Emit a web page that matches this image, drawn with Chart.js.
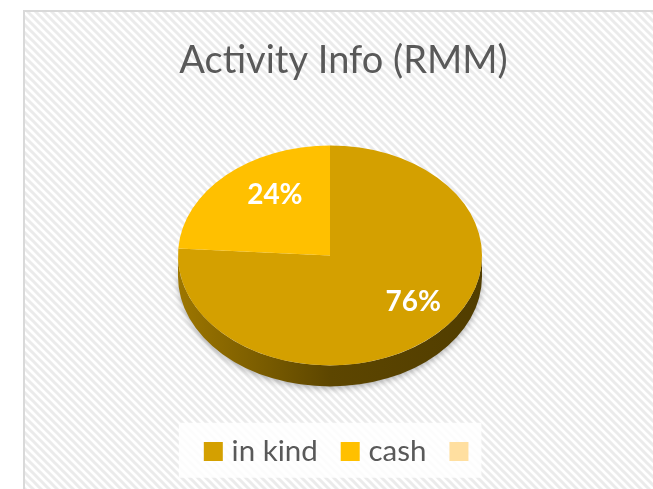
<!DOCTYPE html>
<html>
<head>
<meta charset="utf-8">
<title>Activity Info (RMM)</title>
<script src="https://cdn.jsdelivr.net/npm/chart.js@4.4.1/dist/chart.umd.min.js"></script>
<style>
  html, body { margin: 0; padding: 0; background: #fff; }
  canvas { display: block; }
</style>
</head>
<body>
<canvas id="chart" width="653" height="489"></canvas>
<script>
// Chart data
const chartTitle  = 'Activity Info (RMM)';
const categories  = ['in kind', 'cash', ''];
const values      = [76, 24, 0];
const sliceColors = ['#D4A000', '#FFC000', '#FFDFA0'];

// mix a hex colour with black
function shade(hex, f) {
    const n = parseInt(hex.slice(1), 16);
    const r = Math.round(((n >> 16) & 255) * f);
    const g = Math.round(((n >> 8) & 255) * f);
    const b = Math.round((n & 255) * f);
    return 'rgb(' + r + ',' + g + ',' + b + ')';
}

// light diagonal stripes used as the chart area fill
const stripeTile = (() => {
    const c = document.createElement('canvas');
    c.width = 8; c.height = 8;
    const g = c.getContext('2d');
    g.fillStyle = '#fff';
    g.fillRect(0, 0, 8, 8);
    g.strokeStyle = '#ebebeb';
    g.lineWidth = 3;
    g.beginPath();
    g.moveTo(-2, -2); g.lineTo(10, 10);
    g.moveTo(-2, 6);  g.lineTo(2, 10);
    g.moveTo(6, -2);  g.lineTo(10, 2);
    g.stroke();
    return c;
})();

// frame + stripes + white panel behind legend
const chartBackground = {
    id: 'chartBackground',
    beforeDraw(chart) {
        const ctx = chart.ctx;
        const {width, height} = chart;
        ctx.save();
        ctx.fillStyle = '#fff';
        ctx.fillRect(0, 0, width, height);
        ctx.fillStyle = ctx.createPattern(stripeTile, 'repeat');
        ctx.fillRect(24, 11, width - 24, height - 11);
        ctx.strokeStyle = '#d9d9d9';
        ctx.lineWidth = 2;
        ctx.strokeRect(24, 11, width, height);

        const hb = chart.legend && chart.legend.legendHitBoxes;
        if (hb && hb.length) {
            const first = hb[0], last = hb[hb.length - 1];
            const x0 = first.left - 31, x1 = last.left + 26;
            ctx.fillStyle = 'rgba(255,255,255,0.85)';
            ctx.fillRect(x0, first.top - 14, x1 - x0, 55);
        }
        ctx.restore();
    }
};

// squash the pie into an ellipse and give it a side wall
const pieTilt = {
    id: 'pieTilt',
    beforeDatasetsDraw(chart, args, opts) {
        const ctx = chart.ctx;
        const arcs = chart.getDatasetMeta(0).data;
        if (!arcs.length) return;
        const cx = arcs[0].x, cy = arcs[0].y, r = arcs[0].outerRadius;
        const X = cx + opts.offsetX, ry = r * opts.tilt;

        ctx.save();
        ctx.shadowColor = 'rgba(0,0,0,0.3)';
        ctx.shadowBlur = 6;
        ctx.shadowOffsetY = 2;
        arcs.forEach((arc, i) => {
            const base = arc.options.backgroundColor;
            for (let turn = -1; turn <= 1; turn++) {
                const a0 = Math.max(arc.startAngle, turn * 2 * Math.PI);
                const a1 = Math.min(arc.endAngle, turn * 2 * Math.PI + Math.PI);
                if (a1 <= a0) continue;
                const grad = ctx.createLinearGradient(X - r, 0, X + r, 0);
                grad.addColorStop(0, shade(base, 0.74));
                grad.addColorStop(0.3, shade(base, 0.56));
                grad.addColorStop(0.5, shade(base, 0.44));
                grad.addColorStop(1, shade(base, 0.38));
                ctx.fillStyle = grad;
                ctx.beginPath();
                ctx.ellipse(X, cy, r, ry, 0, a0, a1);
                ctx.ellipse(X, cy + opts.depth, r, ry, 0, a1, a0, true);
                ctx.closePath();
                ctx.fill();
            }
        });
        ctx.restore();

        ctx.save();
        ctx.translate(X, cy);
        ctx.scale(1, opts.tilt);
        ctx.translate(-cx, -cy);
    },
    afterDatasetsDraw(chart) {
        chart.ctx.restore();
    }
};

// percentage labels on the slices
const sliceLabels = {
    id: 'sliceLabels',
    afterDatasetsDraw(chart, args, opts) {
        const ctx = chart.ctx;
        const tilt = chart.options.plugins.pieTilt;
        const arcs = chart.getDatasetMeta(0).data;
        const total = values.reduce((a, b) => a + b, 0);
        ctx.save();
        ctx.font = 'bold 28px Lato';
        ctx.fillStyle = '#fff';
        ctx.textAlign = 'center';
        ctx.textBaseline = 'middle';
        arcs.forEach((arc, i) => {
            if (!values[i]) return;
            const mid = (arc.startAngle + arc.endAngle) / 2;
            const f = opts.radius[i];
            const x = arc.x + tilt.offsetX + Math.cos(mid) * arc.outerRadius * f;
            const y = arc.y + Math.sin(mid) * arc.outerRadius * tilt.tilt * f + opts.shiftY;
            ctx.fillText(Math.round(values[i] / total * 100) + '%', x, y);
        });
        ctx.restore();
    }
};

new Chart(document.getElementById('chart'), {
    type: 'pie',
    data: {
        labels: categories,
        datasets: [{
            data: values,
            backgroundColor: sliceColors,
            borderWidth: 0,
            radius: 152,
            clip: false
        }]
    },
    options: {
        responsive: false,
        animation: false,
        events: [],
        layout: { padding: { top: 16, left: 40, right: 6, bottom: 12.75 } },
        plugins: {
            title: {
                display: true,
                text: chartTitle,
                color: '#595959',
                font: { family: 'Lato', size: 38, weight: 'normal', lineHeight: 1.2 },
                padding: { top: 22, bottom: 19.5 }
            },
            legend: {
                position: 'bottom',
                align: 'center',
                labels: {
                    color: '#595959',
                    font: { family: 'Lato', size: 29.5 },
                    usePointStyle: true,
                    pointStyle: 'rect',
                    boxWidth: 7,
                    boxHeight: 19,
                    padding: 29
                }
            },
            tooltip: { enabled: false },
            pieTilt: { tilt: 0.7237, depth: 21, offsetX: -13.5 },
            sliceLabels: { radius: [0.8, 0.53], shiftY: -18 }
        }
    },
    plugins: [chartBackground, pieTilt, sliceLabels]
});
</script>
</body>
</html>
